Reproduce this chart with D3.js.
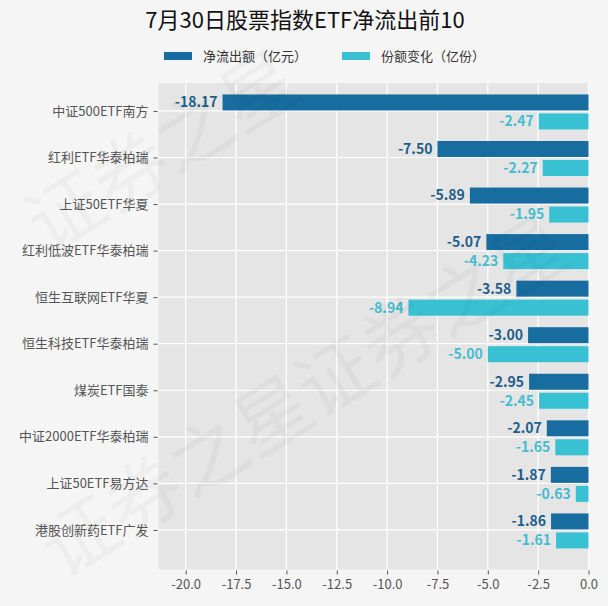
<!DOCTYPE html>
<html lang="zh">

<head>
    <meta charset="utf-8">
    <title>7月30日股票指数ETF净流出前10</title>
    <script type="text/javascript" src="https://cdn.jsdelivr.net/npm/d3@7"></script>
    <style type="text/css">
        body { margin: 0; background: #f5f5f5; }
        text { font-family: "Noto Sans CJK SC", "Noto Sans", sans-serif; }
    </style>
</head>

<body>
    <script type="text/javascript">

        var w = 608;
        var h = 606;

        var titleText = "7月30日股票指数ETF净流出前10";
        var seriesNames = ["净流出额（亿元）", "份额变化（亿份）"];
        var seriesColors = ["#176da0", "#38c1d3"];
        var labelColors = ["#1d5e8a", "#45bcd0"];

        var funds = ["中证500ETF南方", "红利ETF华泰柏瑞", "上证50ETF华夏", "红利低波ETF华泰柏瑞",
            "恒生互联网ETF华夏", "恒生科技ETF华泰柏瑞", "煤炭ETF国泰", "中证2000ETF华泰柏瑞",
            "上证50ETF易方达", "港股创新药ETF广发"];
        var netOutflow = [-18.17, -7.50, -5.89, -5.07, -3.58, -3.00, -2.95, -2.07, -1.87, -1.86];
        var shareChange = [-2.47, -2.27, -1.95, -4.23, -8.94, -5.00, -2.45, -1.65, -0.63, -1.61];
        var xTicks = [-20, -17.5, -15, -12.5, -10, -7.5, -5, -2.5, 0];

        var padL = 158.5, padR = 588.5, padT = 83, padB = 569.5;

        var xScale = d3.scaleLinear().domain([-21.35, 0]).range([padL, padR]);
        var yScale = d3.scaleLinear().domain([-0.6, 9.85]).range([padT, padB]);
        var barH = 16;

        var svg = d3.select("body").append("svg")
            .attr("width", w).attr("height", h);

        svg.append("rect").attr("width", w).attr("height", h).attr("fill", "#f5f5f5");

        // panel
        svg.append("rect").attr("x", padL).attr("y", padT)
            .attr("width", padR - padL).attr("height", padB - padT)
            .attr("fill", "#e5e5e5");

        svg.append("g").selectAll("line").data(xTicks).enter().append("line")
            .attr("x1", function (d) { return xScale(d); })
            .attr("x2", function (d) { return xScale(d); })
            .attr("y1", padT).attr("y2", padB)
            .attr("stroke", "#fff").attr("stroke-width", 1.2);

        svg.append("g").selectAll("line").data(funds).enter().append("line")
            .attr("x1", padL).attr("x2", padR)
            .attr("y1", function (d, i) { return yScale(i); })
            .attr("y2", function (d, i) { return yScale(i); })
            .attr("stroke", "#fff").attr("stroke-width", 1.2);

        // axes
        var xAxis = d3.axisBottom(xScale).tickValues(xTicks)
            .tickFormat(d3.format(".1f")).tickSize(4).tickPadding(5);
        var gx = svg.append("g").attr("transform", "translate(0," + (padB + 1) + ")").call(xAxis);
        gx.select(".domain").remove();
        gx.selectAll("line").attr("stroke", "#555");
        gx.selectAll("text").attr("fill", "#555").attr("font-size", 13)
            .text(function (d) { return d3.format(".1f")(d).replace("−", "-"); });

        var yAxis = d3.axisLeft(yScale).tickValues(d3.range(funds.length))
            .tickFormat(function (i) { return funds[i]; }).tickSize(4).tickPadding(5);
        var gy = svg.append("g").attr("transform", "translate(" + (padL - 1) + ",0)").call(yAxis);
        gy.select(".domain").remove();
        gy.selectAll("line").attr("stroke", "#555");
        gy.selectAll("text").attr("fill", "#555").attr("font-size", 13);

        // bars
        var series = [netOutflow, shareChange];
        var offsets = [-16.5, 2.5];
        series.forEach(function (vals, s) {
            var g = svg.append("g");
            g.selectAll("rect").data(vals).enter().append("rect")
                .attr("x", function (d) { return xScale(d); })
                .attr("y", function (d, i) { return yScale(i) + offsets[s]; })
                .attr("width", function (d) { return xScale(0) - xScale(d); })
                .attr("height", barH)
                .attr("fill", seriesColors[s]);
            g.selectAll("text").data(vals).enter().append("text")
                .attr("x", function (d) { return xScale(d) - 5; })
                .attr("y", function (d, i) { return yScale(i) + offsets[s] + barH / 2; })
                .attr("dy", "0.35em")
                .attr("text-anchor", "end")
                .attr("font-size", 14)
                .attr("font-weight", "bold")
                .attr("fill", labelColors[s])
                .text(function (d) { return d.toFixed(2); });
        });

        // title
        svg.append("text").attr("x", 305).attr("y", 28)
            .attr("text-anchor", "middle").attr("font-size", 22).attr("fill", "#111")
            .text(titleText);

        // legend
        var legendX = [164, 342];
        seriesNames.forEach(function (name, s) {
            svg.append("rect").attr("x", legendX[s]).attr("y", 52)
                .attr("width", 28).attr("height", 8).attr("fill", seriesColors[s]);
            svg.append("text").attr("x", legendX[s] + 39).attr("y", 56)
                .attr("dy", "0.35em").attr("font-size", 13).attr("fill", "#333")
                .text(name);
        });

        // watermark, drawn over everything, very faint
        var wm = svg.append("g").attr("fill", "#000").attr("fill-opacity", 0.03)
            .attr("font-size", 76).attr("pointer-events", "none");
        [[48, 255], [62, 580], [318, 420]].forEach(function (p) {
            wm.append("text").attr("x", p[0]).attr("y", p[1])
                .attr("transform", "rotate(-32," + p[0] + "," + p[1] + ")")
                .text("证券之星");
        });

    </script>
</body>

</html>
